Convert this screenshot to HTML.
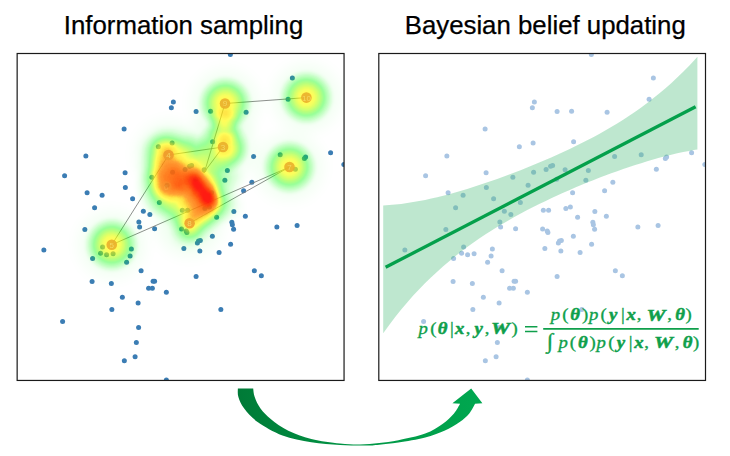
<!DOCTYPE html>
<html><head><meta charset="utf-8"><title>Information sampling / Bayesian belief updating</title>
<style>
html,body{margin:0;padding:0;background:#fff;}
body{width:730px;height:456px;overflow:hidden;font-family:"Liberation Sans",sans-serif;}
svg{display:block}
.t{font-family:"Liberation Sans",sans-serif;font-size:25.8px;fill:#000;stroke:#000;stroke-width:0.25px}
.m{font-family:"Liberation Serif",serif;fill:#0f9f4b;text-anchor:middle;stroke:#0f9f4b;stroke-width:0.35px}
.m{font-size:17px}.gi{font-style:italic}.gb{font-style:italic;font-weight:bold}.gu{font-style:normal}.gb,.gw{stroke-width:0.5px}.gw{font-style:italic;font-weight:bold;font-size:17.5px}.gs{font-size:21px}
.n{font-family:"Liberation Sans",sans-serif;font-size:8px;fill:#f5d565;text-anchor:middle}
</style></head><body>
<svg width="730" height="456" viewBox="0 0 730 456">
<defs>
<radialGradient id="g0"><stop offset="0" stop-color="#000" stop-opacity="0.0488"/><stop offset="0.1" stop-color="#000" stop-opacity="0.0478"/><stop offset="0.2" stop-color="#000" stop-opacity="0.0450"/><stop offset="0.3" stop-color="#000" stop-opacity="0.0406"/><stop offset="0.4" stop-color="#000" stop-opacity="0.0347"/><stop offset="0.5" stop-color="#000" stop-opacity="0.0277"/><stop offset="0.6" stop-color="#000" stop-opacity="0.0203"/><stop offset="0.7" stop-color="#000" stop-opacity="0.0129"/><stop offset="0.8" stop-color="#000" stop-opacity="0.0065"/><stop offset="0.9" stop-color="#000" stop-opacity="0.0018"/><stop offset="1" stop-color="#000" stop-opacity="0.0000"/></radialGradient>
<radialGradient id="g1"><stop offset="0" stop-color="#000" stop-opacity="0.0952"/><stop offset="0.1" stop-color="#000" stop-opacity="0.0934"/><stop offset="0.2" stop-color="#000" stop-opacity="0.0880"/><stop offset="0.3" stop-color="#000" stop-opacity="0.0795"/><stop offset="0.4" stop-color="#000" stop-opacity="0.0681"/><stop offset="0.5" stop-color="#000" stop-opacity="0.0547"/><stop offset="0.6" stop-color="#000" stop-opacity="0.0401"/><stop offset="0.7" stop-color="#000" stop-opacity="0.0257"/><stop offset="0.8" stop-color="#000" stop-opacity="0.0129"/><stop offset="0.9" stop-color="#000" stop-opacity="0.0036"/><stop offset="1" stop-color="#000" stop-opacity="0.0000"/></radialGradient>
<radialGradient id="g2"><stop offset="0" stop-color="#000" stop-opacity="0.1131"/><stop offset="0.1" stop-color="#000" stop-opacity="0.1127"/><stop offset="0.2" stop-color="#000" stop-opacity="0.1107"/><stop offset="0.3" stop-color="#000" stop-opacity="0.1062"/><stop offset="0.4" stop-color="#000" stop-opacity="0.0986"/><stop offset="0.5" stop-color="#000" stop-opacity="0.0875"/><stop offset="0.6" stop-color="#000" stop-opacity="0.0728"/><stop offset="0.7" stop-color="#000" stop-opacity="0.0548"/><stop offset="0.8" stop-color="#000" stop-opacity="0.0344"/><stop offset="0.9" stop-color="#000" stop-opacity="0.0140"/><stop offset="1" stop-color="#000" stop-opacity="0.0000"/></radialGradient>
<radialGradient id="g3"><stop offset="0" stop-color="#000" stop-opacity="0.1393"/><stop offset="0.1" stop-color="#000" stop-opacity="0.1367"/><stop offset="0.2" stop-color="#000" stop-opacity="0.1291"/><stop offset="0.3" stop-color="#000" stop-opacity="0.1168"/><stop offset="0.4" stop-color="#000" stop-opacity="0.1004"/><stop offset="0.5" stop-color="#000" stop-opacity="0.0809"/><stop offset="0.6" stop-color="#000" stop-opacity="0.0596"/><stop offset="0.7" stop-color="#000" stop-opacity="0.0383"/><stop offset="0.8" stop-color="#000" stop-opacity="0.0193"/><stop offset="0.9" stop-color="#000" stop-opacity="0.0054"/><stop offset="1" stop-color="#000" stop-opacity="0.0000"/></radialGradient>
<radialGradient id="g4"><stop offset="0" stop-color="#000" stop-opacity="0.1647"/><stop offset="0.1" stop-color="#000" stop-opacity="0.1642"/><stop offset="0.2" stop-color="#000" stop-opacity="0.1613"/><stop offset="0.3" stop-color="#000" stop-opacity="0.1549"/><stop offset="0.4" stop-color="#000" stop-opacity="0.1441"/><stop offset="0.5" stop-color="#000" stop-opacity="0.1283"/><stop offset="0.6" stop-color="#000" stop-opacity="0.1072"/><stop offset="0.7" stop-color="#000" stop-opacity="0.0811"/><stop offset="0.8" stop-color="#000" stop-opacity="0.0512"/><stop offset="0.9" stop-color="#000" stop-opacity="0.0209"/><stop offset="1" stop-color="#000" stop-opacity="0.0000"/></radialGradient>
<radialGradient id="g5"><stop offset="0" stop-color="#000" stop-opacity="0.1813"/><stop offset="0.1" stop-color="#000" stop-opacity="0.1780"/><stop offset="0.2" stop-color="#000" stop-opacity="0.1683"/><stop offset="0.3" stop-color="#000" stop-opacity="0.1526"/><stop offset="0.4" stop-color="#000" stop-opacity="0.1316"/><stop offset="0.5" stop-color="#000" stop-opacity="0.1064"/><stop offset="0.6" stop-color="#000" stop-opacity="0.0787"/><stop offset="0.7" stop-color="#000" stop-opacity="0.0507"/><stop offset="0.8" stop-color="#000" stop-opacity="0.0256"/><stop offset="0.9" stop-color="#000" stop-opacity="0.0072"/><stop offset="1" stop-color="#000" stop-opacity="0.0000"/></radialGradient>
<radialGradient id="g6"><stop offset="0" stop-color="#000" stop-opacity="0.2212"/><stop offset="0.1" stop-color="#000" stop-opacity="0.2173"/><stop offset="0.2" stop-color="#000" stop-opacity="0.2058"/><stop offset="0.3" stop-color="#000" stop-opacity="0.1870"/><stop offset="0.4" stop-color="#000" stop-opacity="0.1617"/><stop offset="0.5" stop-color="#000" stop-opacity="0.1312"/><stop offset="0.6" stop-color="#000" stop-opacity="0.0973"/><stop offset="0.7" stop-color="#000" stop-opacity="0.0630"/><stop offset="0.8" stop-color="#000" stop-opacity="0.0319"/><stop offset="0.9" stop-color="#000" stop-opacity="0.0090"/><stop offset="1" stop-color="#000" stop-opacity="0.0000"/></radialGradient>
<radialGradient id="g7"><stop offset="0" stop-color="#000" stop-opacity="0.2592"/><stop offset="0.1" stop-color="#000" stop-opacity="0.2547"/><stop offset="0.2" stop-color="#000" stop-opacity="0.2416"/><stop offset="0.3" stop-color="#000" stop-opacity="0.2200"/><stop offset="0.4" stop-color="#000" stop-opacity="0.1908"/><stop offset="0.5" stop-color="#000" stop-opacity="0.1553"/><stop offset="0.6" stop-color="#000" stop-opacity="0.1156"/><stop offset="0.7" stop-color="#000" stop-opacity="0.0751"/><stop offset="0.8" stop-color="#000" stop-opacity="0.0381"/><stop offset="0.9" stop-color="#000" stop-opacity="0.0108"/><stop offset="1" stop-color="#000" stop-opacity="0.0000"/></radialGradient>
<radialGradient id="g8"><stop offset="0" stop-color="#000" stop-opacity="0.3624"/><stop offset="0.1" stop-color="#000" stop-opacity="0.3613"/><stop offset="0.2" stop-color="#000" stop-opacity="0.3558"/><stop offset="0.3" stop-color="#000" stop-opacity="0.3435"/><stop offset="0.4" stop-color="#000" stop-opacity="0.3224"/><stop offset="0.5" stop-color="#000" stop-opacity="0.2906"/><stop offset="0.6" stop-color="#000" stop-opacity="0.2469"/><stop offset="0.7" stop-color="#000" stop-opacity="0.1906"/><stop offset="0.8" stop-color="#000" stop-opacity="0.1232"/><stop offset="0.9" stop-color="#000" stop-opacity="0.0514"/><stop offset="1" stop-color="#000" stop-opacity="0.0000"/></radialGradient>
<radialGradient id="g9"><stop offset="0" stop-color="#000" stop-opacity="0.3624"/><stop offset="0.1" stop-color="#000" stop-opacity="0.3566"/><stop offset="0.2" stop-color="#000" stop-opacity="0.3395"/><stop offset="0.3" stop-color="#000" stop-opacity="0.3111"/><stop offset="0.4" stop-color="#000" stop-opacity="0.2720"/><stop offset="0.5" stop-color="#000" stop-opacity="0.2236"/><stop offset="0.6" stop-color="#000" stop-opacity="0.1683"/><stop offset="0.7" stop-color="#000" stop-opacity="0.1105"/><stop offset="0.8" stop-color="#000" stop-opacity="0.0567"/><stop offset="0.9" stop-color="#000" stop-opacity="0.0161"/><stop offset="1" stop-color="#000" stop-opacity="0.0000"/></radialGradient>
<radialGradient id="g10"><stop offset="0" stop-color="#000" stop-opacity="0.4401"/><stop offset="0.1" stop-color="#000" stop-opacity="0.4389"/><stop offset="0.2" stop-color="#000" stop-opacity="0.4327"/><stop offset="0.3" stop-color="#000" stop-opacity="0.4186"/><stop offset="0.4" stop-color="#000" stop-opacity="0.3944"/><stop offset="0.5" stop-color="#000" stop-opacity="0.3576"/><stop offset="0.6" stop-color="#000" stop-opacity="0.3062"/><stop offset="0.7" stop-color="#000" stop-opacity="0.2386"/><stop offset="0.8" stop-color="#000" stop-opacity="0.1558"/><stop offset="0.9" stop-color="#000" stop-opacity="0.0658"/><stop offset="1" stop-color="#000" stop-opacity="0.0000"/></radialGradient>
<linearGradient id="ag" x1="237" y1="0" x2="483" y2="0" gradientUnits="userSpaceOnUse"><stop offset="0" stop-color="#007a37"/><stop offset="0.5" stop-color="#009645"/><stop offset="1" stop-color="#00a850"/></linearGradient>
<filter id="heat" x="0" y="0" width="730" height="456" filterUnits="userSpaceOnUse" color-interpolation-filters="sRGB"><feGaussianBlur stdDeviation="1.2"/><feColorMatrix type="matrix" values="0 0 0 1 0  0 0 0 1 0  0 0 0 1 0  0 0 0 1 0"/><feComponentTransfer><feFuncR type="table" tableValues="0 0 0 0 0 0 0 0 0 0 0 0 0 0 0 0 0 0 0 0 0 0 0 0 0 0 0 0 0 0 0 0 0 0 0.06 0.12 0.19 0.25 0.31 0.38 0.44 0.51 0.58 0.65 0.72 0.79 0.86 0.94 1 1 1 1 1 1 1 1 1 1 1 1 1 1 1 1 1 1 1 1 1 1 1 1 1 1 1 1 1 1 1 1 1 1 1 1 1 1 1 1 1 1 1 1 1 1 1 1 1 1 1 1 1"/><feFuncG type="table" tableValues="1 1 1 1 1 1 1 1 1 1 1 1 1 1 1 1 1 1 1 1 1 1 1 1 1 1 1 1 1 1 1 1 1 1 1 1 1 1 1 1 1 1 1 1 1 1 1 1 0.99 0.96 0.93 0.9 0.86 0.78 0.7 0.62 0.54 0.52 0.49 0.47 0.44 0.41 0.39 0.36 0.32 0.29 0.25 0.21 0.17 0.12 0.09 0.09 0.09 0.09 0.09 0.09 0.09 0.09 0.09 0.09 0.09 0.09 0.09 0.09 0.09 0.09 0.09 0.09 0.09 0.09 0.09 0.09 0.09 0.09 0.09 0.09 0.09 0.09 0.09 0.09 0.09"/><feFuncB type="table" tableValues="0 0 0 0 0 0 0 0 0 0 0 0 0 0 0 0 0 0 0 0 0 0 0 0 0 0 0 0 0 0 0 0 0 0 0 0 0 0 0 0 0 0 0 0 0 0 0 0 0 0 0 0.01 0.01 0.01 0.01 0.01 0.01 0.02 0.02 0.02 0.02 0.02 0.03 0.03 0.03 0.03 0.04 0.04 0.04 0.04 0.05 0.05 0.05 0.05 0.05 0.05 0.05 0.05 0.05 0.05 0.05 0.05 0.05 0.05 0.05 0.05 0.05 0.05 0.05 0.05 0.05 0.05 0.05 0.05 0.05 0.05 0.05 0.05 0.05 0.05 0.05"/><feFuncA type="table" tableValues="-0 0.01 0.02 0.03 0.04 0.05 0.06 0.07 0.08 0.09 0.11 0.12 0.13 0.14 0.15 0.16 0.17 0.19 0.2 0.21 0.22 0.24 0.25 0.26 0.27 0.29 0.3 0.31 0.33 0.34 0.36 0.37 0.39 0.4 0.42 0.43 0.45 0.46 0.48 0.49 0.51 0.53 0.54 0.56 0.58 0.6 0.62 0.63 0.65 0.67 0.69 0.71 0.73 0.76 0.78 0.8 0.81 0.83 0.85 0.86 0.88 0.9 0.92 0.94 0.96 0.97 0.98 0.98 0.98 0.98 0.98 0.98 0.98 0.98 0.98 0.98 0.98 0.98 0.98 0.98 0.98 0.98 0.98 0.98 0.98 0.98 0.98 0.98 0.98 0.98 0.98 0.98 0.98 0.98 0.98 0.98 0.98 0.98 0.98 0.98 0.98"/></feComponentTransfer></filter>
<clipPath id="cl"><rect x="17.15" y="53.5" width="326.9" height="326.95"/></clipPath>
<clipPath id="cr"><rect x="378.8" y="53.5" width="326.7" height="326.95"/></clipPath>
<g id="pts"><circle cx="173.35" cy="101.95" r="2.5"/><circle cx="171.35" cy="107.7" r="2.5"/><circle cx="124.1" cy="128.95" r="2.5"/><circle cx="172.1" cy="142.95" r="2.5"/><circle cx="158.35" cy="146.7" r="2.5"/><circle cx="230.35" cy="54.45" r="2.5"/><circle cx="292.35" cy="77.95" r="2.5"/><circle cx="288.1" cy="99.2" r="2.5"/><circle cx="196.1" cy="111.45" r="2.5"/><circle cx="210.6" cy="111.2" r="2.5"/><circle cx="246.1" cy="112.2" r="2.5"/><circle cx="212.6" cy="141.7" r="2.5"/><circle cx="330.6" cy="152.7" r="2.5"/><circle cx="280.2" cy="154.7" r="2.5"/><circle cx="85.85" cy="155.95" r="2.5"/><circle cx="64.6" cy="175.7" r="2.5"/><circle cx="125.1" cy="172.7" r="2.5"/><circle cx="125.35" cy="187.45" r="2.5"/><circle cx="87.1" cy="192.7" r="2.5"/><circle cx="102.1" cy="195.2" r="2.5"/><circle cx="132.6" cy="198.7" r="2.5"/><circle cx="94.6" cy="207.7" r="2.5"/><circle cx="143.35" cy="211.2" r="2.5"/><circle cx="149.85" cy="214.45" r="2.5"/><circle cx="138.85" cy="221.95" r="2.5"/><circle cx="139.6" cy="226.95" r="2.5"/><circle cx="154.6" cy="228.7" r="2.5"/><circle cx="84.85" cy="229.45" r="2.5"/><circle cx="43.85" cy="249.95" r="2.5"/><circle cx="102.6" cy="246.95" r="2.5"/><circle cx="100.6" cy="253.2" r="2.5"/><circle cx="106.6" cy="254.7" r="2.5"/><circle cx="113.1" cy="253.7" r="2.5"/><circle cx="131.35" cy="248.95" r="2.5"/><circle cx="130.1" cy="255.95" r="2.5"/><circle cx="126.6" cy="262.2" r="2.5"/><circle cx="92.6" cy="258.45" r="2.5"/><circle cx="151.85" cy="177.2" r="2.5"/><circle cx="159.35" cy="202.45" r="2.5"/><circle cx="182.35" cy="210.2" r="2.5"/><circle cx="181.6" cy="228.95" r="2.5"/><circle cx="183.85" cy="248.45" r="2.5"/><circle cx="167.1" cy="185.2" r="2.5"/><circle cx="172.6" cy="172.2" r="2.5"/><circle cx="185.1" cy="169.45" r="2.5"/><circle cx="187.6" cy="210.2" r="2.5"/><circle cx="186.2" cy="230.9" r="2.5"/><circle cx="186.9" cy="232.6" r="2.5"/><circle cx="198.5" cy="241.1" r="2.5"/><circle cx="253.6" cy="156.45" r="2.5"/><circle cx="304.35" cy="158.45" r="2.5"/><circle cx="305.6" cy="156.95" r="2.5"/><circle cx="343.85" cy="164.45" r="2.5"/><circle cx="295.35" cy="169.2" r="2.5"/><circle cx="227.35" cy="170.45" r="2.5"/><circle cx="224.85" cy="180.2" r="2.5"/><circle cx="251.85" cy="182.2" r="2.5"/><circle cx="243.6" cy="190.7" r="2.5"/><circle cx="233.85" cy="211.45" r="2.5"/><circle cx="245.35" cy="216.2" r="2.5"/><circle cx="216.6" cy="217.2" r="2.5"/><circle cx="231.85" cy="222.2" r="2.5"/><circle cx="232.35" cy="224.7" r="2.5"/><circle cx="233.6" cy="229.2" r="2.5"/><circle cx="276.85" cy="226.95" r="2.5"/><circle cx="297.1" cy="225.45" r="2.5"/><circle cx="212.35" cy="236.2" r="2.5"/><circle cx="200.35" cy="240.45" r="2.5"/><circle cx="197.35" cy="242.95" r="2.5"/><circle cx="230.6" cy="244.2" r="2.5"/><circle cx="219.1" cy="252.45" r="2.5"/><circle cx="199.85" cy="250.95" r="2.5"/><circle cx="191.6" cy="165.45" r="2.5"/><circle cx="189.6" cy="166.2" r="2.5"/><circle cx="204.1" cy="169.7" r="2.5"/><circle cx="211.6" cy="192.7" r="2.5"/><circle cx="195.6" cy="179.2" r="2.5"/><circle cx="209.35" cy="206.95" r="2.5"/><circle cx="204.85" cy="208.45" r="2.5"/><circle cx="141.1" cy="270.7" r="2.5"/><circle cx="92.1" cy="281.45" r="2.5"/><circle cx="111.35" cy="283.45" r="2.5"/><circle cx="153.1" cy="281.2" r="2.5"/><circle cx="154.6" cy="281.2" r="2.5"/><circle cx="148.6" cy="288.2" r="2.5"/><circle cx="152.35" cy="288.2" r="2.5"/><circle cx="166.35" cy="292.2" r="2.5"/><circle cx="122.35" cy="297.2" r="2.5"/><circle cx="138.1" cy="302.95" r="2.5"/><circle cx="111.85" cy="309.45" r="2.5"/><circle cx="62.6" cy="321.45" r="2.5"/><circle cx="138.6" cy="327.45" r="2.5"/><circle cx="136.35" cy="342.45" r="2.5"/><circle cx="135.1" cy="356.7" r="2.5"/><circle cx="124.35" cy="360.7" r="2.5"/><circle cx="166.35" cy="379.95" r="2.5"/><circle cx="196.1" cy="276.45" r="2.5"/><circle cx="254.35" cy="270.7" r="2.5"/><circle cx="261.35" cy="275.7" r="2.5"/><circle cx="220.85" cy="309.45" r="2.5"/></g>
</defs>
<text class="t" x="63.8" y="34.1">Information sampling</text>
<text class="t" x="404.7" y="34.1">Bayesian belief updating</text>
<g clip-path="url(#cl)">
<use href="#pts" fill="#3b7db4"/>
<g stroke="#7a7a7a" stroke-width="0.85" fill="none">
<line x1="223" y1="147" x2="168.5" y2="155"/>
<line x1="168.5" y1="155" x2="111.75" y2="244.75"/>
<line x1="111.75" y1="244.75" x2="289.5" y2="167"/>
<line x1="289.5" y1="167" x2="189.6" y2="223.2"/>
<line x1="225" y1="103.5" x2="306.4" y2="97.6"/>
<line x1="223" y1="147" x2="203.5" y2="173"/>
<line x1="225" y1="103.5" x2="204.2" y2="173"/>
</g>
<g filter="url(#heat)">
<circle cx="306.4" cy="97.6" r="28" fill="url(#g10)"/>
<circle cx="225.3" cy="103.3" r="28" fill="url(#g10)"/>
<circle cx="223" cy="147" r="28" fill="url(#g8)"/>
<circle cx="224.5" cy="126" r="20" fill="url(#g4)"/>
<circle cx="289.5" cy="167" r="28" fill="url(#g10)"/>
<circle cx="111.75" cy="244.75" r="28" fill="url(#g10)"/>
<circle cx="152" cy="150" r="20" fill="url(#g0)"/>
<circle cx="152" cy="164" r="20" fill="url(#g0)"/>
<circle cx="152" cy="171" r="20" fill="url(#g0)"/>
<circle cx="152" cy="185" r="20" fill="url(#g3)"/>
<circle cx="152" cy="199" r="20" fill="url(#g0)"/>
<circle cx="159" cy="143" r="20" fill="url(#g0)"/>
<circle cx="159" cy="150" r="20" fill="url(#g3)"/>
<circle cx="159" cy="199" r="20" fill="url(#g3)"/>
<circle cx="166" cy="143" r="20" fill="url(#g3)"/>
<circle cx="166" cy="206" r="20" fill="url(#g0)"/>
<circle cx="173" cy="143" r="20" fill="url(#g0)"/>
<circle cx="173" cy="185" r="20" fill="url(#g0)"/>
<circle cx="180" cy="143" r="20" fill="url(#g0)"/>
<circle cx="180" cy="213" r="20" fill="url(#g1)"/>
<circle cx="187" cy="185" r="20" fill="url(#g1)"/>
<circle cx="187" cy="227" r="20" fill="url(#g5)"/>
<circle cx="187" cy="234" r="20" fill="url(#g1)"/>
<circle cx="194" cy="150" r="20" fill="url(#g1)"/>
<circle cx="194" cy="227" r="20" fill="url(#g3)"/>
<circle cx="201" cy="220" r="20" fill="url(#g0)"/>
<circle cx="208" cy="164" r="20" fill="url(#g0)"/>
<circle cx="208" cy="185" r="20" fill="url(#g0)"/>
<circle cx="208" cy="192" r="20" fill="url(#g1)"/>
<circle cx="208" cy="199" r="20" fill="url(#g0)"/>
<circle cx="208" cy="213" r="20" fill="url(#g1)"/>
<circle cx="215" cy="199" r="20" fill="url(#g0)"/>
<circle cx="222" cy="150" r="20" fill="url(#g0)"/>
<circle cx="222" cy="178" r="20" fill="url(#g0)"/>
<circle cx="222" cy="199" r="20" fill="url(#g0)"/>
<circle cx="222" cy="206" r="20" fill="url(#g0)"/>
<circle cx="229" cy="178" r="20" fill="url(#g1)"/>
<circle cx="229" cy="206" r="20" fill="url(#g0)"/>
<circle cx="166" cy="157" r="28" fill="url(#g7)"/>
<circle cx="166" cy="171" r="28" fill="url(#g3)"/>
<circle cx="166" cy="178" r="28" fill="url(#g9)"/>
<circle cx="166" cy="192" r="28" fill="url(#g3)"/>
<circle cx="173" cy="199" r="28" fill="url(#g3)"/>
<circle cx="180" cy="150" r="28" fill="url(#g0)"/>
<circle cx="180" cy="178" r="28" fill="url(#g0)"/>
<circle cx="180" cy="185" r="28" fill="url(#g0)"/>
<circle cx="180" cy="206" r="28" fill="url(#g5)"/>
<circle cx="187" cy="157" r="28" fill="url(#g7)"/>
<circle cx="187" cy="185" r="28" fill="url(#g3)"/>
<circle cx="194" cy="171" r="28" fill="url(#g1)"/>
<circle cx="194" cy="178" r="28" fill="url(#g3)"/>
<circle cx="194" cy="192" r="28" fill="url(#g3)"/>
<circle cx="194" cy="220" r="28" fill="url(#g3)"/>
<circle cx="201" cy="178" r="28" fill="url(#g6)"/>
<circle cx="201" cy="199" r="28" fill="url(#g1)"/>
<circle cx="201" cy="206" r="28" fill="url(#g3)"/>
<circle cx="208" cy="178" r="28" fill="url(#g3)"/>
<circle cx="208" cy="199" r="28" fill="url(#g0)"/>
<circle cx="208" cy="206" r="28" fill="url(#g7)"/>
<circle cx="215" cy="185" r="28" fill="url(#g0)"/>
<circle cx="215" cy="199" r="28" fill="url(#g1)"/>
<circle cx="192" cy="177" r="12" fill="url(#g1)"/>
<circle cx="196" cy="182" r="12" fill="url(#g3)"/>
<circle cx="200" cy="187" r="12" fill="url(#g0)"/>
<circle cx="208" cy="197" r="12" fill="url(#g3)"/>
<circle cx="211" cy="202" r="12" fill="url(#g1)"/>
<circle cx="229" cy="150" r="20" fill="url(#g2)"/>
<circle cx="306.4" cy="97.6" r="46" fill="url(#g1)"/>
<circle cx="225.3" cy="103.3" r="46" fill="url(#g1)"/>
<circle cx="289.5" cy="167" r="46" fill="url(#g1)"/>
<circle cx="111.75" cy="244.75" r="46" fill="url(#g1)"/>
<circle cx="223" cy="147" r="46" fill="url(#g1)"/>
<circle cx="168.8" cy="154.6" r="46" fill="url(#g1)"/>
<circle cx="189.4" cy="223.2" r="46" fill="url(#g1)"/>
</g>
<g opacity="0.9"><circle cx="223" cy="147" r="5.3" fill="#eab02c"/><text class="n" x="223" y="149.9">3</text></g>
<g opacity="0.9"><circle cx="168.5" cy="155" r="5.3" fill="#ee9c2c"/><text class="n" x="168.5" y="157.9">4</text></g>
<g opacity="0.9"><circle cx="111.75" cy="244.75" r="5.3" fill="#eab02c"/><text class="n" x="111.75" y="247.65">5</text></g>
<g opacity="0.3"><circle cx="166.3" cy="186.6" r="5.3" fill="#f59a30"/><text class="n" x="166.3" y="189.5">6</text></g>
<g opacity="0.9"><circle cx="289.5" cy="167" r="5.3" fill="#eab02c"/><text class="n" x="289.5" y="169.9">7</text></g>
<g opacity="0.9"><circle cx="189.6" cy="223.2" r="5.3" fill="#efa22e"/><text class="n" x="189.6" y="226.1">8</text></g>
<g opacity="0.9"><circle cx="225" cy="103.5" r="5.3" fill="#eab02c"/><text class="n" x="225" y="106.4">9</text></g>
<g opacity="0.9"><circle cx="306.4" cy="97.6" r="5.3" fill="#eab02c"/><text class="n" x="306.4" y="100.5">10</text></g>
</g>
<rect x="17.15" y="53.5" width="326.9" height="326.95" fill="none" stroke="#1a1a1a" stroke-width="1.2"/>
<g clip-path="url(#cr)">
<use href="#pts" x="361" fill="#a9c5e3"/>
<path d="M383.2 205.5 L389.2 205.12 L395.2 204.57 L401.2 203.88 L407.2 203.06 L413.2 202.11 L419.2 201.05 L425.2 199.88 L431.2 198.6 L437.2 197.21 L443.2 195.73 L449.2 194.15 L455.2 192.49 L461.2 190.75 L467.2 188.94 L473.2 187.06 L479.2 185.12 L485.2 183.11 L491.2 181.04 L497.2 178.92 L503.2 176.75 L509.2 174.52 L515.2 172.25 L521.2 169.92 L527.2 167.53 L533.2 165.1 L539.2 162.61 L545.2 160.06 L551.2 157.45 L557.2 154.78 L563.2 152.04 L569.2 149.23 L575.2 146.34 L581.2 143.37 L587.2 140.31 L593.2 137.16 L599.2 133.9 L605.2 130.53 L611.2 127.03 L617.2 123.41 L623.2 119.65 L629.2 115.74 L635.2 111.67 L641.2 107.43 L647.2 103 L653.2 98.37 L659.2 93.54 L665.2 88.48 L671.2 83.18 L677.2 77.62 L683.2 71.8 L689.2 65.69 L695.2 59.28 L697.4 56.85 L697.4 149.52 L695.2 149.87 L689.2 150.92 L683.2 152.09 L677.2 153.37 L671.2 154.77 L665.2 156.26 L659.2 157.85 L653.2 159.53 L647.2 161.29 L641.2 163.13 L635.2 165.04 L629.2 167.02 L623.2 169.07 L617.2 171.18 L611.2 173.36 L605.2 175.59 L599.2 177.87 L593.2 180.22 L587.2 182.62 L581.2 185.08 L575.2 187.6 L569.2 190.18 L563.2 192.82 L557.2 195.52 L551.2 198.29 L545.2 201.13 L539.2 204.05 L533.2 207.04 L527.2 210.12 L521.2 213.29 L515.2 216.56 L509.2 219.93 L503.2 223.41 L497.2 227.01 L491.2 230.73 L485.2 234.6 L479.2 238.6 L473.2 242.77 L467.2 247.1 L461.2 251.6 L455.2 256.3 L449.2 261.2 L443.2 266.31 L437.2 271.65 L431.2 277.23 L425.2 283.06 L419.2 289.18 L413.2 295.61 L407.2 302.39 L401.2 309.51 L395.2 317.01 L389.2 324.9 L383.2 333.2Z" fill="#27ae60" fill-opacity="0.3"/>
<line x1="385.6" y1="267.3" x2="695.6" y2="106.7" stroke="#04a04b" stroke-width="3.3"/>
</g>
<rect x="378.8" y="53.5" width="326.7" height="326.95" fill="none" stroke="#1a1a1a" stroke-width="1.2"/>
<text class="m" transform="scale(1.1,1)"><tspan class="gi" x="384.73" y="333.8">p</tspan><tspan class="gu" x="394" y="333.8">(</tspan><tspan class="gb" x="402.45" y="333.8">θ</tspan><tspan class="gu" x="410.91" y="333.8">|</tspan><tspan class="gb" x="417.91" y="333.8">x</tspan><tspan class="gu" x="425.55" y="333.8">,</tspan><tspan class="gb" x="435.09" y="333.8">y</tspan><tspan class="gu" x="442.82" y="333.8">,</tspan><tspan class="gu" x="467.73" y="333.8">)</tspan><tspan class="gi" x="505" y="320.5">p</tspan><tspan class="gu" x="513.91" y="320.5">(</tspan><tspan class="gb" x="522.91" y="320.5">θ</tspan><tspan class="gu" x="531.91" y="320.5">)</tspan><tspan class="gi" x="539.73" y="320.5">p</tspan><tspan class="gu" x="548.82" y="320.5">(</tspan><tspan class="gb" x="557.45" y="320.5">y</tspan><tspan class="gu" x="566.36" y="320.5">|</tspan><tspan class="gb" x="573.91" y="320.5">x</tspan><tspan class="gu" x="581" y="320.5">,</tspan><tspan class="gu" x="608.73" y="320.5">,</tspan><tspan class="gb" x="618.18" y="320.5">θ</tspan><tspan class="gu" x="625.91" y="320.5">)</tspan><tspan class="gs" x="499.82" y="348.5">∫</tspan><tspan class="gi" x="511.91" y="347.6">p</tspan><tspan class="gu" x="520.82" y="347.6">(</tspan><tspan class="gb" x="529.82" y="347.6">θ</tspan><tspan class="gu" x="538.82" y="347.6">)</tspan><tspan class="gi" x="546.64" y="347.6">p</tspan><tspan class="gu" x="555.73" y="347.6">(</tspan><tspan class="gb" x="564.36" y="347.6">y</tspan><tspan class="gu" x="573.27" y="347.6">|</tspan><tspan class="gb" x="580.82" y="347.6">x</tspan><tspan class="gu" x="587.91" y="347.6">,</tspan><tspan class="gu" x="615.64" y="347.6">,</tspan><tspan class="gb" x="625.09" y="347.6">θ</tspan><tspan class="gu" x="632.82" y="347.6">)</tspan></text>
<text class="m gw" transform="translate(500.4,333.8) scale(1.22,1)">W</text><text class="m gw" transform="translate(656,320.5) scale(1.22,1)">W</text><text class="m gw" transform="translate(663.6,347.6) scale(1.22,1)">W</text>
<path d="M543.2 327.95h155.5v1.7h-155.5zM525 326.1h12.4v1.4h-12.4zM525 330.8h12.4v1.4h-12.4z" fill="#0f9f4b"/>
<path d="M237.85 388.5C237.94 389.93 237.34 393.75 238.4 397.1C239.46 400.45 241 404.45 244.2 408.6C247.4 412.75 251.22 417.52 257.6 422C263.98 426.48 273.55 432.13 282.5 435.5C291.45 438.87 301.72 440.62 311.3 442.2C320.88 443.78 331.05 444.43 340 445C348.95 445.57 358.47 445.65 365 445.6C371.53 445.55 373.63 445.22 379.2 444.7C384.77 444.18 390.73 443.72 398.4 442.5C406.07 441.28 417.53 439.37 425.2 437.4C432.87 435.43 438.65 433.27 444.4 430.7C450.15 428.13 455.55 424.88 459.7 422C463.85 419.12 466.73 416.43 469.3 413.4C471.87 410.37 474.13 405.4 475.1 403.8L482.4 403.2L471.2 388.5L452.4 403.2L460.1 403.8C459.08 405.4 456.93 410.05 454 413.4C451.07 416.75 447.3 420.55 442.5 423.9C437.7 427.25 432.55 430.78 425.2 433.5C417.85 436.22 406.07 438.6 398.4 440.2C390.73 441.8 385.6 442.38 379.2 443.1C372.8 443.82 366.53 444.43 360 444.5C353.47 444.57 348.12 444.43 340 443.5C331.88 442.57 319.92 441.03 311.3 438.9C302.68 436.77 295.02 433.98 288.3 430.7C281.58 427.42 275.63 422.88 271 419.2C266.37 415.52 263.22 412.28 260.5 408.6C257.78 404.92 255.92 400.45 254.7 397.1C253.48 393.75 253.45 389.93 253.2 388.5Z" fill="url(#ag)"/>
</svg></body></html>
